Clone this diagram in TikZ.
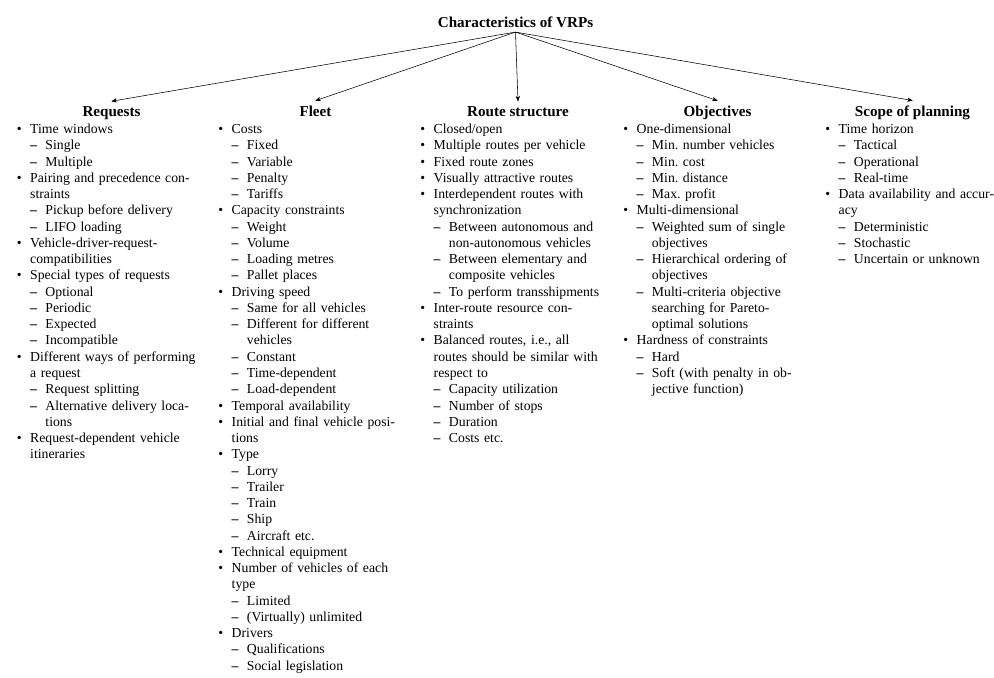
\documentclass[tikz,border=0pt]{standalone}
\usepackage{fontspec}
\setmainfont{Liberation Serif}
\usepackage{enumitem}
\usetikzlibrary{arrows,positioning}
\frenchspacing
\setlist[itemize]{nosep}
\setlist[itemize,1]{label=\textbullet, labelindent=0pt, labelwidth=3.5pt,
  labelsep=6.3pt, leftmargin=9.8pt}
\setlist[itemize,2]{label=\textbf{--}, labelindent=0pt, labelwidth=5pt,
  labelsep=6.1pt, leftmargin=11.1pt}
\tikzset{
  vrp_top/.style = {font=\fontsize{11}{13}\selectfont\bfseries, anchor=base},% title
  vrp_head/.style = {font=\fontsize{11}{13}\selectfont\bfseries, anchor=base},% column heading
  vrp_list/.style = {anchor=north west, inner sep=0pt, text width=140pt,
    align=left, font=\fontsize{10}{11.84}\selectfont}% column of items
}

\begin{document}
\begin{tikzpicture}[->,>=stealth',x=0.728pt,y=-0.728pt]
\useasboundingbox (0,0) rectangle (994,678);
\node [vrp_top] (vrp) at (515.5,27) {Characteristics of VRPs};
\node [vrp_head] (req) at (111.5,116) {Requests};
\node [vrp_head] (fleet) at (315.5,116) {Fleet};
\node [vrp_head] (route) at (518,116) {Route structure};
\node [vrp_head] (obj) at (717.5,116) {Objectives};
\node [vrp_head] (scope) at (912.5,116) {Scope of planning};
\foreach \h in {req,fleet,route,obj,scope}
  \draw (vrp.south) -- (\h.north);
% columns
\node [vrp_list] (reqlist) at (16.5,117) {%
\begin{itemize}
\item Time windows
  \begin{itemize}
  \item Single
  \item Multiple
  \end{itemize}
\item Pairing and precedence con-\newline straints
  \begin{itemize}
  \item Pickup before delivery
  \item LIFO loading
  \end{itemize}
\item Vehicle-driver-request-\newline compatibilities
\item Special types of requests
  \begin{itemize}
  \item Optional
  \item Periodic
  \item Expected
  \item Incompatible
  \end{itemize}
\item Different ways of performing\newline a request
  \begin{itemize}
  \item Request splitting
  \item Alternative delivery loca-\newline tions
  \end{itemize}
\item Request-dependent vehicle\newline itineraries
\end{itemize}};
\node [vrp_list] (fleetlist) at (218,117) {%
\begin{itemize}
\item Costs
  \begin{itemize}
  \item Fixed
  \item Variable
  \item Penalty
  \item Tariffs
  \end{itemize}
\item Capacity constraints
  \begin{itemize}
  \item Weight
  \item Volume
  \item Loading metres
  \item Pallet places
  \end{itemize}
\item Driving speed
  \begin{itemize}
  \item Same for all vehicles
  \item Different for different\newline vehicles
  \item Constant
  \item Time-dependent
  \item Load-dependent
  \end{itemize}
\item Temporal availability
\item Initial and final vehicle posi-\newline tions
\item Type
  \begin{itemize}
  \item Lorry
  \item Trailer
  \item Train
  \item Ship
  \item Aircraft etc.
  \end{itemize}
\item Technical equipment
\item Number of vehicles of each\newline type
  \begin{itemize}
  \item Limited
  \item (Virtually) unlimited
  \end{itemize}
\item Drivers
  \begin{itemize}
  \item Qualifications
  \item Social legislation
  \end{itemize}
\end{itemize}};
\node [vrp_list] (routelist) at (420,117) {%
\begin{itemize}
\item Closed/open
\item Multiple routes per vehicle
\item Fixed route zones
\item Visually attractive routes
\item Interdependent routes with\newline synchronization
  \begin{itemize}
  \item Between autonomous and\newline non-autonomous vehicles
  \item Between elementary and\newline composite vehicles
  \item To perform transshipments
  \end{itemize}
\item Inter-route resource con-\newline straints
\item Balanced routes, i.e., all\newline routes should be similar with\newline respect to
  \begin{itemize}
  \item Capacity utilization
  \item Number of stops
  \item Duration
  \item Costs etc.
  \end{itemize}
\end{itemize}};
\node [vrp_list] (objlist) at (623,117) {%
\begin{itemize}
\item One-dimensional
  \begin{itemize}
  \item Min. number vehicles
  \item Min. cost
  \item Min. distance
  \item Max. profit
  \end{itemize}
\item Multi-dimensional
  \begin{itemize}
  \item Weighted sum of single\newline objectives
  \item Hierarchical ordering of\newline objectives
  \item Multi-criteria objective\newline searching for Pareto-\newline optimal solutions
  \end{itemize}
\item Hardness of constraints
  \begin{itemize}
  \item Hard
  \item Soft (with penalty in ob-\newline jective function)
  \end{itemize}
\end{itemize}};
\node [vrp_list] (scopelist) at (825,117) {%
\begin{itemize}
\item Time horizon
  \begin{itemize}
  \item Tactical
  \item Operational
  \item Real-time
  \end{itemize}
\item Data availability and accur-\newline acy
  \begin{itemize}
  \item Deterministic
  \item Stochastic
  \item Uncertain or unknown
  \end{itemize}
\end{itemize}};
\end{tikzpicture}
\end{document}
